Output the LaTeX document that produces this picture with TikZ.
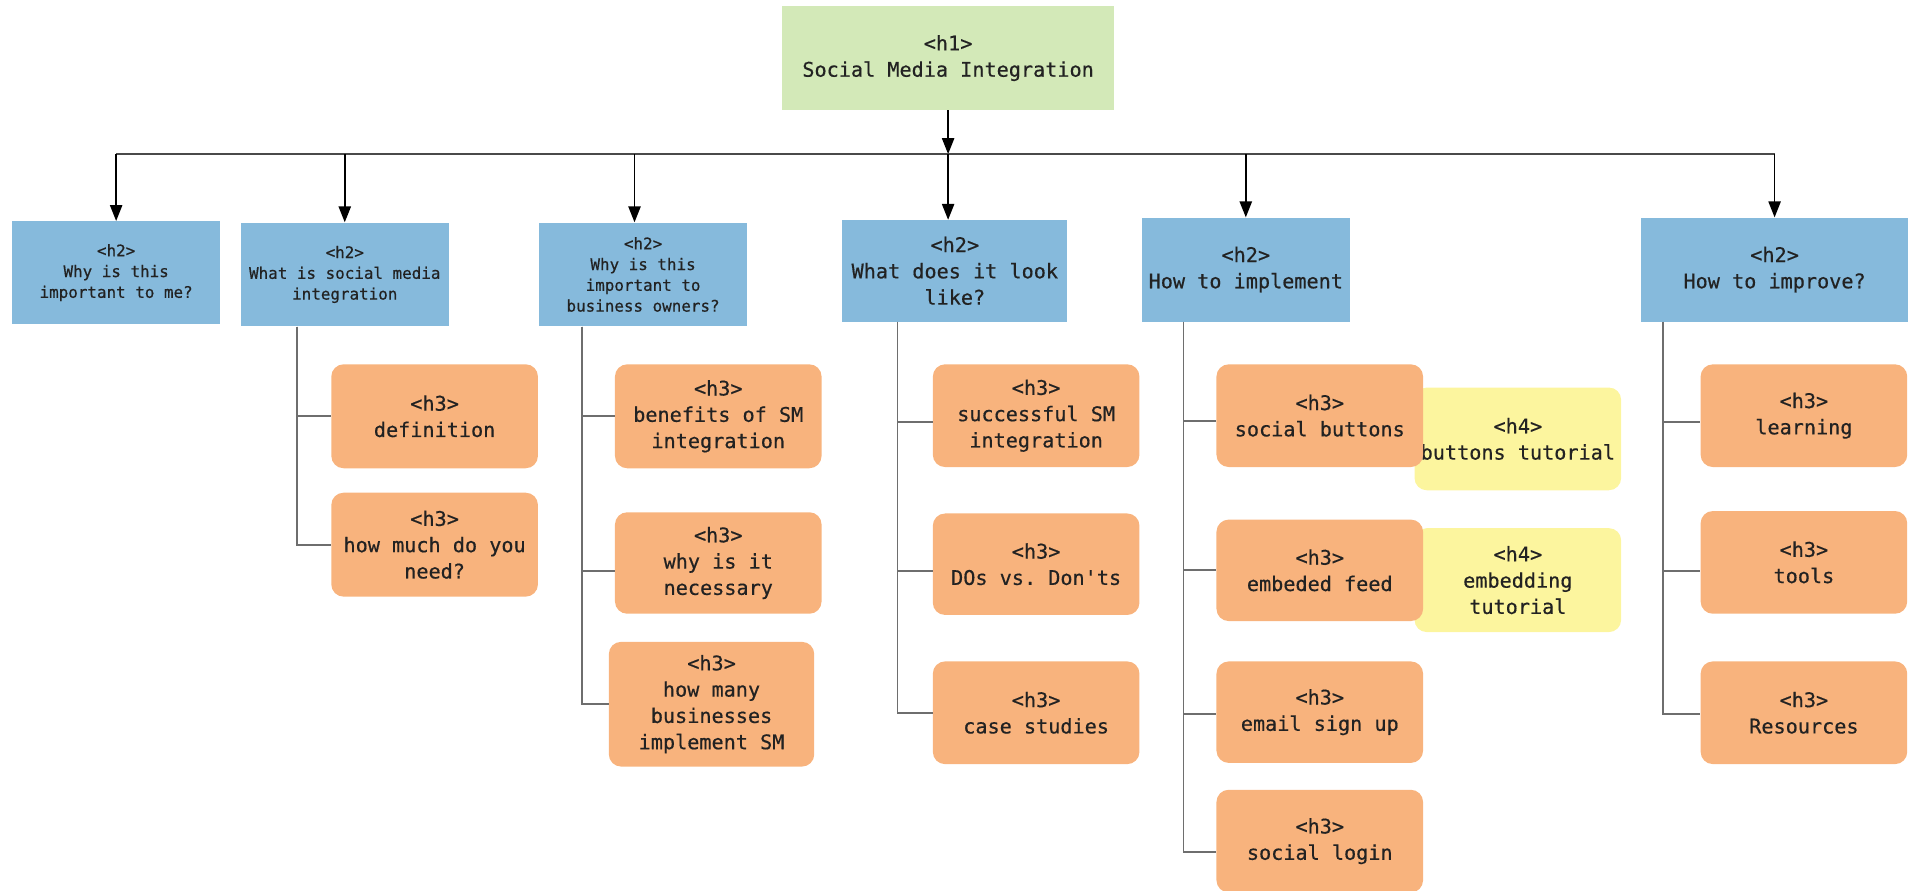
\documentclass[tikz,border=0pt]{standalone}
\usepackage{fontspec}
\setmonofont[FakeBold=0.5]{DejaVu Sans Mono}
\usetikzlibrary{arrows.meta}
\definecolor{hgreen}{HTML}{D3E9B8}
\definecolor{hblue}{HTML}{86BADC}
\definecolor{horange}{HTML}{F8B37D}
\definecolor{hyellow}{HTML}{FCF59E}
\definecolor{ink}{HTML}{222222}
\definecolor{busgray}{HTML}{4A4A4A}
\definecolor{linkgray}{HTML}{6E6E6E}
\begin{document}
\begin{tikzpicture}[x=1pt,y=-1pt,
  every node/.style={font=\ttfamily\fontsize{16.5}{21.5}\selectfont, text=ink, align=center, inner sep=0pt},
  hbox/.style={minimum width=169pt, minimum height=84pt},
  lvone/.style={hbox, fill=hgreen, minimum width=271pt, minimum height=85pt},
  lvtwo/.style={hbox, fill=hblue, minimum width=170pt, minimum height=85pt},
  small/.style={font=\ttfamily\fontsize{13}{17}\selectfont},
  lvthree/.style={hbox, fill=horange, rounded corners=10pt},
  lvfour/.style={hbox, fill=hyellow, rounded corners=10pt},
  arr/.style={draw=black, line width=1.3pt, -{Triangle[length=13pt,width=10pt]}},
  bus/.style={draw=busgray, line width=1.6pt},
  link/.style={draw=linkgray, line width=1.4pt},
]
\useasboundingbox (0,0) rectangle (1568,728);

% page heading
\node[lvone] (h1) at (775.5,47.5) {<h1>\\Social Media Integration};

% second level
\node[lvtwo, small, minimum height=84pt] (h2a) at (95,223) {<h2>\\Why is this\\important to me?};
\node[lvtwo, small] (h2b) at (282,224.5) {<h2>\\What is social media\\integration};
\node[lvtwo, small] (h2c) at (526,224.5) {<h2>\\Why is this\\important to\\business owners?};
\node[lvtwo, minimum width=184pt, minimum height=83pt] (h2d) at (781,221.5) {<h2>\\What does it look\\like?};
\node[lvtwo] (h2e) at (1019,220.5) {<h2>\\How to implement};
\node[lvtwo, minimum width=219pt] (h2f) at (1451.5,220.5) {<h2>\\How to improve?};

% fourth level (sits behind the third level boxes)
\node[lvfour] (g1) at (1241.5,359) {<h4>\\buttons tutorial};
\node[lvfour, minimum height=85pt] (g2) at (1241.5,474.5) {<h4>\\embedding\\tutorial};

% third level
\node[lvthree, minimum height=85pt] (b1) at (355.5,340.5) {<h3>\\definition};
\node[lvthree, minimum height=85pt] (b2) at (355.5,445.5) {<h3>\\how much do you\\need?};
\node[lvthree, minimum height=85pt] (c1) at (587.5,340.5) {<h3>\\benefits of SM\\integration};
\node[lvthree, minimum height=83pt] (c2) at (587.5,460.5) {<h3>\\why is it\\necessary};
\node[lvthree, minimum width=168pt, minimum height=102pt] (c3) at (582,576) {<h3>\\how many\\businesses\\implement SM};
\node[lvthree] (d1) at (847.5,340) {<h3>\\successful SM\\integration};
\node[lvthree, minimum height=83pt] (d2) at (847.5,461.5) {<h3>\\DOs vs. Don'ts};
\node[lvthree] (d3) at (847.5,583) {<h3>\\case studies};
\node[lvthree] (e1) at (1079.5,340) {<h3>\\social buttons};
\node[lvthree, minimum height=83pt] (e2) at (1079.5,466.5) {<h3>\\embeded feed};
\node[lvthree, minimum height=83pt] (e3) at (1079.5,582.5) {<h3>\\email sign up};
\node[lvthree] (e4) at (1079.5,688) {<h3>\\social login};
\node[lvthree] (f1) at (1475.5,340) {<h3>\\learning};
\node[lvthree] (f2) at (1475.5,460) {<h3>\\tools};
\node[lvthree] (f3) at (1475.5,583) {<h3>\\Resources};

% distribution bar under the heading
\coordinate (busy) at (0,126);
\coordinate (cdrop) at ([xshift=-7pt]h2c.north);
\draw[arr] (h1.south) -- (h1.south |- busy);
\draw[bus] (h2a.north |- busy) -- (h2f.north |- busy);
\foreach \n in {h2a,h2b,h2e,h2f}
  \draw[arr] (\n.north |- busy) -- (\n.north);
\draw[arr] (cdrop |- busy) -- (cdrop);
\draw[arr] (h1.south |- busy) -- (h1.south |- h2d.north);

% trunks from each second level box
\coordinate (tb) at ([xshift=-39pt]h2b.south);
\coordinate (tc) at ([xshift=-50pt]h2c.south);
\coordinate (td) at ([xshift=-47pt]h2d.south);
\coordinate (te) at ([xshift=-51pt]h2e.south);
\coordinate (tf) at ([xshift=-91.5pt]h2f.south);

\draw[link] (tb) |- (b1.west);
\draw[link] (tb) |- (b2.west);
\draw[link] (tc) |- (c1.west);
\draw[link] (tc) |- ([yshift=-6.5pt]c2.west);
\draw[link] (tc) |- (c3.west);
\draw[link] (td) |- ([yshift=-5pt]d1.west);
\draw[link] (td) |- ([yshift=-5.5pt]d2.west);
\draw[link] (td) |- (d3.west);
\draw[link] (te) |- ([yshift=-4.5pt]e1.west);
\draw[link] (te) |- (e2.west);
\draw[link] (te) |- ([yshift=-1.5pt]e3.west);
\draw[link] (te) |- ([yshift=-9pt]e4.west);
\draw[link] (tf) |- ([yshift=-5pt]f1.west);
\draw[link] (tf) |- ([yshift=-7pt]f2.west);
\draw[link] (tf) |- ([yshift=-1pt]f3.west);
\end{tikzpicture}
\end{document}
